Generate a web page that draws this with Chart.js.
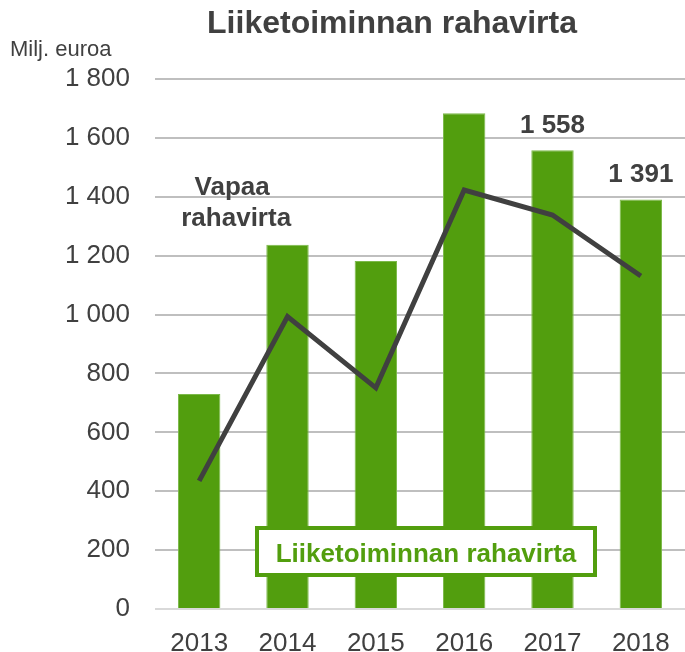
<!DOCTYPE html>
<html>
<head>
<meta charset="utf-8">
<script src="https://cdn.jsdelivr.net/npm/chart.js@4.4.1/dist/chart.umd.min.js"></script>
<style>
  html, body { margin: 0; padding: 0; background: #fff; }
  #wrap { width: 685px; height: 652px; }
</style>
</head>
<body>
<div id="wrap"><canvas id="chart" width="685" height="652"></canvas></div>
<script>
const years = ["2013", "2014", "2015", "2016", "2017", "2018"];
const operatingCashFlow = [730, 1237, 1182, 1684, 1558, 1391];
const freeCashFlow = [435, 993, 751, 1423, 1338, 1131];
const labelledYears = ["2017", "2018"];

const green = "#529e0e";
const dark = "#404040";
const fontFamily = "'Liberation Sans', Arial, sans-serif";

function fmt(v) {
  return String(v).replace(/\B(?=(\d{3})+(?!\d))/g, " ");
}

const extraText = {
  id: "extraText",
  afterDraw(chart) {
    const ctx = chart.ctx;
    const xs = chart.scales.x;
    ctx.save();

    // title
    ctx.fillStyle = dark;
    ctx.textAlign = "center";
    ctx.textBaseline = "alphabetic";
    ctx.font = "bold 32px " + fontFamily;
    ctx.fillText("Liiketoiminnan rahavirta", 392, 33);

    // unit
    ctx.textAlign = "left";
    ctx.font = "22px " + fontFamily;
    ctx.fillText("Milj. euroa", 10, 56);

    // value labels over the last bars
    ctx.textAlign = "center";
    ctx.font = "bold 26px " + fontFamily;
    const barMeta = chart.getDatasetMeta(1);
    labelledYears.forEach(y => {
      const i = years.indexOf(y);
      const bar = barMeta.data[i];
      ctx.fillText(fmt(operatingCashFlow[i]), bar.x, bar.y - 17);
    });

    // line label
    const x0 = xs.getPixelForValue(0);
    ctx.fillText("Vapaa", x0 + 33, 195);
    ctx.fillText("rahavirta", x0 + 37, 226);

    // legend box for bars
    ctx.fillStyle = "#fff";
    ctx.fillRect(257, 528, 338, 47);
    ctx.strokeStyle = green;
    ctx.lineWidth = 4;
    ctx.strokeRect(257, 528, 338, 47);
    ctx.fillStyle = green;
    ctx.fillText("Liiketoiminnan rahavirta", 426, 562);

    ctx.restore();
  }
};

new Chart(document.getElementById("chart"), {
  data: {
    labels: years,
    datasets: [
      {
        type: "line",
        label: "Vapaa rahavirta",
        data: freeCashFlow,
        borderColor: dark,
        borderWidth: 5,
        borderJoinStyle: "miter",
        pointRadius: 0,
        tension: 0,
        order: 0
      },
      {
        type: "bar",
        label: "Liiketoiminnan rahavirta",
        data: operatingCashFlow,
        backgroundColor: green,
        borderColor: "#7cb94a",
        borderWidth: 1,
        barPercentage: 0.48,
        categoryPercentage: 1,
        order: 1
      }
    ]
  },
  options: {
    responsive: false,
    animation: false,
    layout: { padding: { top: 79, right: -4, left: 0, bottom: 0 } },
    plugins: {
      legend: { display: false },
      tooltip: { enabled: false },
      title: { display: false }
    },
    scales: {
      x: {
        grid: { display: false },
        border: { display: false },
        ticks: {
          color: dark,
          padding: 11,
          font: { family: fontFamily, size: 26 }
        },
        afterFit(scale) { scale.height = 43; }
      },
      y: {
        min: 0,
        max: 1800,
        grid: {
          color: c => (c.tick && c.tick.value === 0 ? "#d9d9d9" : "#bfbfbf"),
          lineWidth: 2,
          drawTicks: false
        },
        border: { display: false },
        ticks: {
          stepSize: 200,
          color: dark,
          padding: 25,
          font: { family: fontFamily, size: 26 },
          callback: v => fmt(v)
        },
        afterFit(scale) { scale.width = 155; }
      }
    }
  },
  plugins: [extraText]
});
</script>
</body>
</html>
